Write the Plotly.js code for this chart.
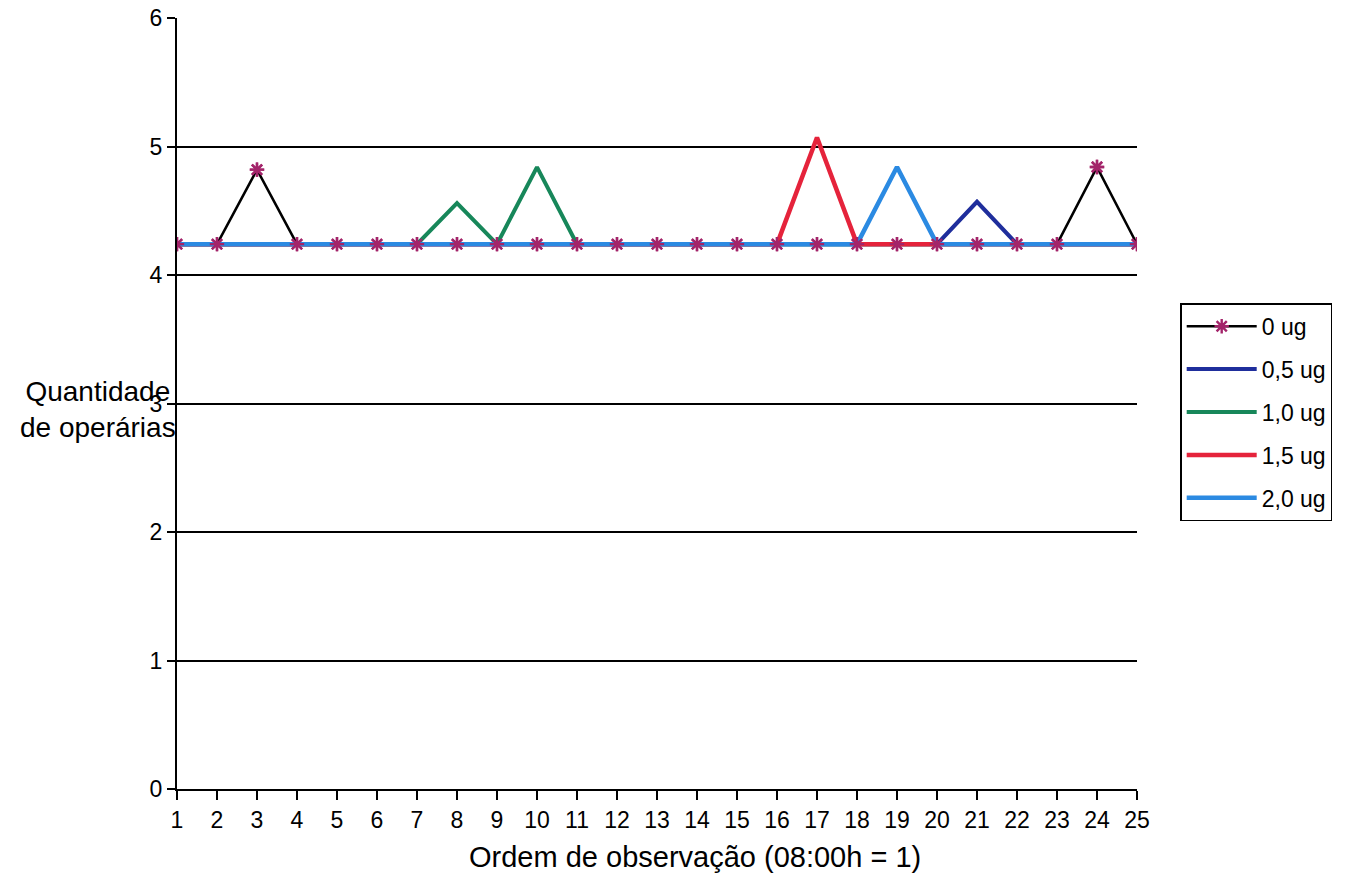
<!DOCTYPE html>
<html>
<head>
<meta charset="utf-8">
<script src="https://cdn.plot.ly/plotly-3.0.1.min.js"></script>
<style>html,body{margin:0;padding:0;background:#fff;}#chart{width:1356px;height:885px;}</style>
</head>
<body>
<div id="chart"></div>
<script>
const observations = [1,2,3,4,5,6,7,8,9,10,11,12,13,14,15,16,17,18,19,20,21,22,23,24,25];
const seriesNames = ["0 ug","0,5 ug","1,0 ug","1,5 ug","2,0 ug"];
const dose0   = [4.24,4.24,4.82,4.24,4.24,4.24,4.24,4.24,4.24,4.24,4.24,4.24,4.24,4.24,4.24,4.24,4.24,4.24,4.24,4.24,4.24,4.24,4.24,4.84,4.24];
const dose05  = [4.24,4.24,4.24,4.24,4.24,4.24,4.24,4.24,4.24,4.24,4.24,4.24,4.24,4.24,4.24,4.24,4.24,4.24,4.24,4.24,4.57,4.24,4.24,4.24,4.24];
const dose10  = [4.24,4.24,4.24,4.24,4.24,4.24,4.24,4.56,4.24,4.84,4.24,4.24,4.24,4.24,4.24,4.24,4.24,4.24,4.24,4.24,4.24,4.24,4.24,4.24,4.24];
const dose15  = [4.24,4.24,4.24,4.24,4.24,4.24,4.24,4.24,4.24,4.24,4.24,4.24,4.24,4.24,4.24,4.24,5.07,4.24,4.24,4.24,4.24,4.24,4.24,4.24,4.24];
const dose20  = [4.24,4.24,4.24,4.24,4.24,4.24,4.24,4.24,4.24,4.24,4.24,4.24,4.24,4.24,4.24,4.24,4.24,4.24,4.84,4.24,4.24,4.24,4.24,4.24,4.24];
const yTicks = [0,1,2,3,4,5,6];
const xTitle = "Ordem de observação (08:00h = 1)";
const yTitle = "Quantidade<br>de operárias";

const markerStyle = {symbol:"asterisk-open", size:12, color:"#a3246a", line:{color:"#a3246a", width:2.4}};
const traces = [
  {x:observations, y:dose0, name:seriesNames[0], legendgroup:"g0", mode:"lines+markers", line:{color:"#000000", width:2.5}, marker:markerStyle},
  {x:observations, y:dose05, name:seriesNames[1], legendgroup:"g1", mode:"lines", line:{color:"#1f2e9c", width:4}},
  {x:observations, y:dose10, name:seriesNames[2], legendgroup:"g2", mode:"lines", line:{color:"#17875a", width:4}},
  {x:observations, y:dose15, name:seriesNames[3], legendgroup:"g3", mode:"lines", line:{color:"#e5233b", width:4.5}},
  {x:observations, y:dose20, name:seriesNames[4], legendgroup:"g4", mode:"lines", line:{color:"#2b8ae2", width:4.5}},
  {x:observations, y:dose0, name:seriesNames[0], legendgroup:"g0", mode:"markers", showlegend:false, marker:markerStyle, hoverinfo:"skip"}
];

const layout = {
  width:1356, height:885,
  margin:{l:177, r:219, t:18, b:96},
  paper_bgcolor:"#ffffff", plot_bgcolor:"#ffffff",
  font:{family:"Liberation Sans, Arial, sans-serif", color:"#000", size:23},
  showlegend:true,
  legend:{x:1.045, y:0.63, xanchor:"left", yanchor:"top", bordercolor:"#000", borderwidth:1.5,
          font:{size:23}, bgcolor:"#fff", tracegroupgap:10, itemwidth:70, traceorder:"grouped"},
  xaxis:{range:[1,25], tickmode:"array", tickvals:observations, ticktext:observations.map(String),
         showgrid:false, zeroline:false, showline:true, linecolor:"#000", linewidth:2,
         ticks:"outside", ticklen:9, tickwidth:2, tickcolor:"#000", tickfont:{size:23}},
  yaxis:{range:[0,6], tickmode:"array", tickvals:yTicks, showgrid:true, gridcolor:"#000", gridwidth:2,
         zeroline:false, showline:true, linecolor:"#000", linewidth:2,
         ticks:"outside", ticklen:8, tickwidth:2, tickcolor:"#000", tickfont:{size:23}},
  annotations:[
    {text:yTitle, xref:"paper", yref:"paper", x:0.001, y:0.492,
     xanchor:"right", yanchor:"middle", showarrow:false, align:"center", font:{size:28}},
    {text:xTitle, xref:"paper", yref:"paper", x:0.54, y:-0.088,
     xanchor:"center", yanchor:"middle", showarrow:false, font:{size:29}}
  ]
};
Plotly.newPlot("chart", traces, layout, {displayModeBar:false});
</script>
</body>
</html>
